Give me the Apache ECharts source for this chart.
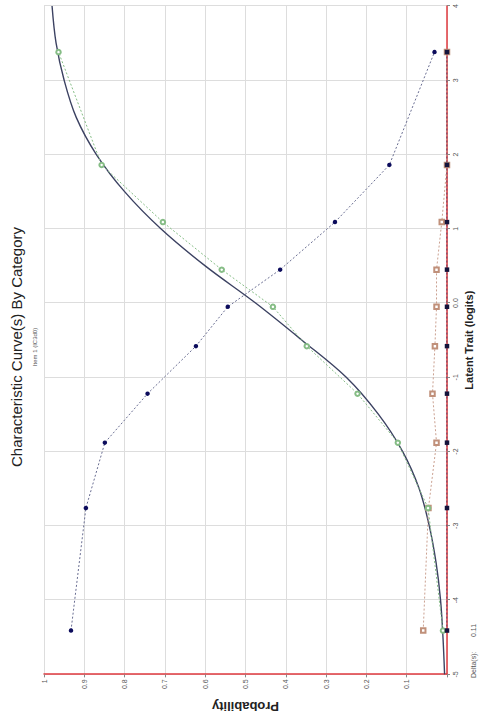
<!DOCTYPE html>
<html>
<head>
<meta charset="utf-8">
<script src="https://cdn.jsdelivr.net/npm/echarts@6/dist/echarts.min.js"></script>
<style>
  html, body { margin: 0; padding: 0; background: #fff; overflow: hidden; }
  #wrap { position: relative; width: 486px; height: 721px; overflow: hidden; background: #fff; }
  #chart { position: absolute; left: 0; top: 0; width: 721px; height: 486px;
           transform-origin: 0 0; transform: translateY(721px) rotate(-90deg); }
</style>
</head>
<body>
<div id="wrap"><div id="chart"></div></div>
<script>
// ---- data ----
const traitPoints = [-4.41, -2.76, -1.88, -1.22, -0.58, -0.05, 0.45, 1.09, 1.86, 3.38];
const cat0Observed = [0.933, 0.896, 0.849, 0.743, 0.623, 0.544, 0.414, 0.278, 0.143, 0.031];
const cat1Observed = [0.010, 0.047, 0.122, 0.222, 0.348, 0.432, 0.559, 0.705, 0.857, 0.964];
const missingObserved = [0.059, 0.046, 0.026, 0.036, 0.030, 0.026, 0.026, 0.013, 0.000, 0.000];
const otherObserved = [0, 0, 0, 0, 0, 0, 0, 0, 0, 0];
const modelTrait = [-5, -4.5, -4, -3.5, -3, -2.5, -2, -1.5, -1, -0.5, 0, 0.5, 1, 1.5, 2, 2.5, 3, 3.5, 4];
const modelProb  = [0.006, 0.010, 0.016, 0.027, 0.044, 0.069, 0.110, 0.170, 0.250, 0.360, 0.475, 0.600, 0.710, 0.800, 0.870, 0.920, 0.950, 0.970, 0.980];
const traitTickLabels = {'-5': '-5', '-4': '-4', '-3': '-3', '-2': '-2', '-1': '-1', '0': '0.0', '1': '1', '2': '2', '3': '3', '4': '4'};
const probTickLabels = {'1': '1', '0.9': '0.9', '0.8': '0.8', '0.7': '0.7', '0.6': '0.6', '0.5': '0.5', '0.4': '0.4', '0.3': '0.3', '0.2': '0.2', '0.1': '0.1', '0': ''};
const titleText = 'Characteristic Curve(s) By Category';
const subtitleText = 'Item 1 (IC3d0)';
const deltaLabel = 'Delta(s):';
const deltaValue = '0.11';

const pairs = (xs, ys) => xs.map((x, i) => [x, ys[i]]);
const FONT = '"Liberation Sans", Arial, sans-serif';

const chart = echarts.init(document.getElementById('chart'), null, { renderer: 'svg', width: 721, height: 486 });
chart.setOption({
  animation: false,
  backgroundColor: '#ffffff',
  grid: { left: 44, right: 6, top: 44, bottom: 39 },
  xAxis: {
    type: 'value', min: -5, max: 4, interval: 1,
    name: 'Latent Trait (logits)', nameLocation: 'middle', nameGap: 16,
    nameTextStyle: { fontSize: 11, fontWeight: 'bold', color: '#222', fontFamily: FONT, verticalAlign: 'top' },
    axisLine: { onZero: false, lineStyle: { color: '#e03a3f', width: 1.5 } },
    axisTick: { show: true, length: 3, lineStyle: { color: '#888' } },
    axisLabel: { fontSize: 7, color: '#555', margin: 5, fontFamily: FONT,
      formatter: v => traitTickLabels[String(v)] ?? String(v) },
    splitLine: { show: true, lineStyle: { color: '#dddddd', width: 1 } }
  },
  yAxis: {
    type: 'value', min: 0, max: 1, interval: 0.1,
    name: 'Probability', nameLocation: 'middle', nameGap: 20, nameRotate: 90,
    nameTextStyle: { fontSize: 13, fontWeight: 'bold', color: '#222', fontFamily: FONT },
    axisLine: { show: true, onZero: false, lineStyle: { color: '#e03a3f', width: 1.5 } },
    axisTick: { show: true, length: 3, lineStyle: { color: '#888' } },
    axisLabel: { fontSize: 7, color: '#555', margin: 5, fontFamily: FONT,
      formatter: v => { const k = String(Math.round(v * 10) / 10); return probTickLabels[k] ?? k; } },
    splitLine: { show: true, lineStyle: { color: '#dddddd', width: 1 } }
  },
  series: [
    {
      name: 'Model', type: 'line', smooth: 0.35, showSymbol: false, symbol: 'none',
      data: pairs(modelTrait, modelProb), z: 3,
      lineStyle: { color: '#3c4262', width: 1.4 }
    },
    {
      name: 'Missing', type: 'line', data: pairs(traitPoints, missingObserved), z: 4,
      symbol: 'emptyRect', symbolSize: 4.5,
      itemStyle: { color: '#c0907a', borderWidth: 1 },
      lineStyle: { color: '#caa090', width: 1, type: [2, 2] }
    },
    {
      name: 'Category 1', type: 'line', data: pairs(traitPoints, cat1Observed), z: 4,
      symbol: 'emptyCircle', symbolSize: 4.5,
      itemStyle: { color: '#86bd86', borderWidth: 1 },
      lineStyle: { color: '#86bd86', width: 1, type: [2, 2] }
    },
    {
      name: 'Category 0', type: 'line', data: pairs(traitPoints, cat0Observed), z: 5,
      symbol: 'circle', symbolSize: 4.5,
      itemStyle: { color: '#0c0c5c' },
      lineStyle: { color: '#6a6e92', width: 1, type: [2, 2] }
    },
    {
      name: 'Other', type: 'line', data: pairs(traitPoints, otherObserved), z: 6,
      symbol: 'rect', symbolSize: 4.5,
      itemStyle: { color: '#14143c' },
      lineStyle: { color: '#3a3a66', width: 1, type: [2, 2] }
    }
  ],
  graphic: [
    { type: 'text', x: 374, y: 9, style: { text: titleText, fontSize: 15, fontFamily: FONT, fill: '#222', align: 'center', verticalAlign: 'top' } },
    { type: 'text', x: 374, y: 32, style: { text: subtitleText, fontSize: 6, fontFamily: FONT, fill: '#555', align: 'center', verticalAlign: 'top' } },
    { type: 'text', x: 43, y: 473, style: { text: deltaLabel, fontSize: 7, fontFamily: FONT, fill: '#555', align: 'left', verticalAlign: 'middle' } },
    { type: 'text', x: 84, y: 473, style: { text: deltaValue, fontSize: 7, fontFamily: FONT, fill: '#555', align: 'left', verticalAlign: 'middle' } }
  ]
});
</script>
</body>
</html>
